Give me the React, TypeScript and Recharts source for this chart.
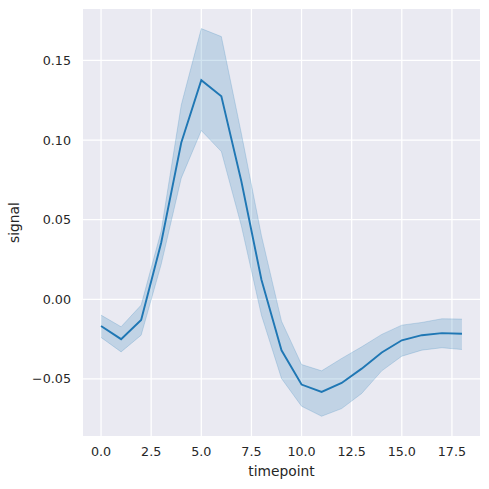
import { ComposedChart, Area, Line, XAxis, YAxis, CartesianGrid, Label } from 'recharts';

const timepoints = [0, 1, 2, 3, 4, 5, 6, 7, 8, 9, 10, 11, 12, 13, 14, 15, 16, 17, 18];
const meanSignal = [
  -0.0167, -0.025, -0.0129, 0.0355, 0.0983, 0.1376, 0.1275, 0.0740, 0.0123, -0.032,
  -0.0535, -0.0581, -0.0525, -0.0435, -0.0334, -0.0257, -0.0225, -0.0212, -0.0216,
];
const upperCi = [
  -0.0099, -0.0172, -0.0036, 0.043, 0.122, 0.170, 0.165, 0.104, 0.040, -0.0137,
  -0.0409, -0.0449, -0.0371, -0.0298, -0.022, -0.0162, -0.0145, -0.0122, -0.0124,
];
const lowerCi = [
  -0.0239, -0.033, -0.0225, 0.022, 0.0761, 0.106, 0.0928, 0.046, -0.010, -0.0497,
  -0.0671, -0.0734, -0.0686, -0.0591, -0.0449, -0.0357, -0.0319, -0.0304, -0.0315,
];
const xTicks = [0, 2.5, 5, 7.5, 10, 12.5, 15, 17.5];
const yTicks = [-0.05, 0, 0.05, 0.1, 0.15];

const data = timepoints.map((t, i) => ({
  timepoint: t,
  signal: meanSignal[i],
  band: [lowerCi[i], upperCi[i]],
}));

const FONT = '"DejaVu Sans", sans-serif';
const TEXT = '#262626';
const BLUE = '#1f77b4';

const fmtY = (v: number) => (v < 0 ? '\u2212' + Math.abs(v).toFixed(2) : v.toFixed(2));

export default function App() {
  return (
    <div style={{ position: 'absolute', left: 0, top: 0, width: 489, height: 489, background: '#fff' }}>
      <ComposedChart
        width={489}
        height={489}
        data={data}
        margin={{ top: 9, right: 9, bottom: 0, left: 0 }}
        style={{ fontFamily: FONT }}
      >
        <CartesianGrid fill="#EAEAF2" stroke="#ffffff" strokeWidth={1.25} horizontalValues={yTicks} verticalValues={xTicks} />
        <XAxis
          dataKey="timepoint"
          type="number"
          domain={[-0.9, 18.9]}
          ticks={xTicks}
          allowDataOverflow
          height={53}
          axisLine={false}
          tickLine={false}
          tickSize={0}
          tickMargin={11}
          tickFormatter={(v: number) => v.toFixed(1)}
          tick={{ fill: TEXT, fontSize: 12.7, fontFamily: FONT }}
        >
          <Label value="timepoint" position="insideBottom" offset={13} fill={TEXT} fontSize={13.8} fontFamily={FONT} />
        </XAxis>
        <YAxis
          type="number"
          domain={[-0.0858, 0.1823]}
          ticks={yTicks}
          allowDataOverflow
          width={83}
          axisLine={false}
          tickLine={false}
          tickSize={0}
          tickMargin={12}
          tickFormatter={fmtY}
          tick={{ fill: TEXT, fontSize: 12.7, fontFamily: FONT }}
        >
          <Label
            value="signal"
            angle={-90}
            position="insideLeft"
            offset={14}
            fill={TEXT}
            fontSize={13.8}
            fontFamily={FONT}
            style={{ textAnchor: 'middle' }}
          />
        </YAxis>
        <Area
          dataKey="band"
          type="linear"
          fill={BLUE}
          fillOpacity={0.2}
          stroke={BLUE}
          strokeOpacity={0.2}
          strokeWidth={1}
          isAnimationActive={false}
        />
        <Line
          dataKey="signal"
          type="linear"
          stroke={BLUE}
          strokeWidth={1.9}
          dot={false}
          activeDot={false}
          isAnimationActive={false}
        />
      </ComposedChart>
    </div>
  );
}
